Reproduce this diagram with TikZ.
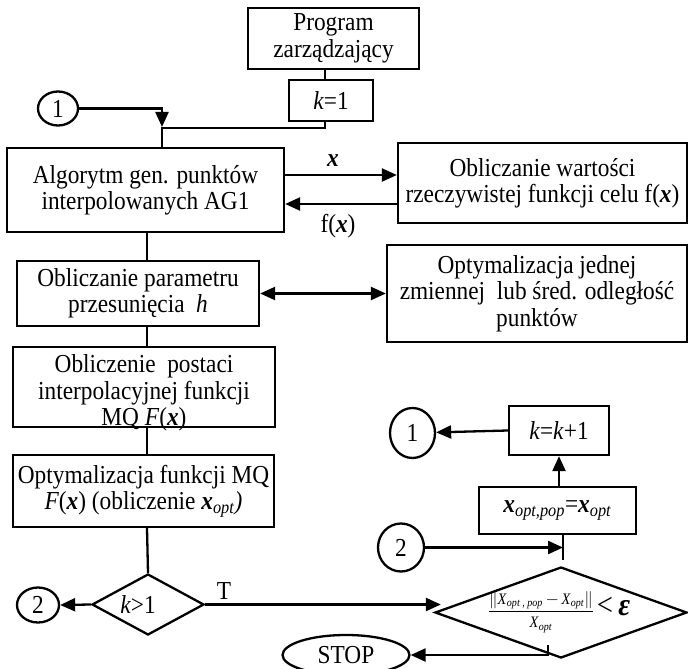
\documentclass[tikz,border=0pt]{standalone}
\usepackage{fontspec}
\usepackage{amsmath}
\setmainfont[FakeStretch=0.9]{Liberation Serif}
\usetikzlibrary{arrows.meta,shapes.geometric}
\newcommand{\bx}{\textbf{\textit{x}}}
\begin{document}
\begin{tikzpicture}[x=1bp,y=-1bp, line width=2.3bp,
  every node/.style={font=\fontsize{26}{26.5}\selectfont},
  box/.style={draw, rectangle, inner sep=0pt, align=center},
  circ/.style={draw, ellipse, inner sep=0pt},
  dia/.style={draw, diamond, inner sep=0pt, align=center},
  arr/.style={-{Triangle[length=15bp,width=13bp]}},
  darr/.style={{Triangle[length=15bp,width=13bp]}-{Triangle[length=15bp,width=13bp]}}]
\useasboundingbox (0,0) rectangle (688,669);

% nodes
\node[box, minimum width=171bp, minimum height=61bp] (prog) at (333.5,38.5) {Program\\zarządzający};
\node[box, minimum width=84bp, minimum height=41bp] (k1) at (331,100.5) {\textit{k}=1};
\node[circ, minimum width=40bp, minimum height=34bp] (c1a) at (58,108.5) {1};
\node[box, minimum width=277bp, minimum height=84bp] (alg) at (145.5,190) {Algorytm gen. punktów\\interpolowanych AG1};
\node[box, minimum width=289bp, minimum height=80bp] (obw) at (542.5,183) {Obliczanie wartości\\rzeczywistej funkcji celu f(\bx)};
\node[box, minimum width=242bp, minimum height=65bp] (par) at (138,293.5) {Obliczanie parametru\\przesunięcia\ \ \textit{h}};
\node[box, minimum width=300bp, minimum height=97bp] (opt1) at (537,293.5) {Optymalizacja jednej\\zmiennej\ \ lub śred. odległość\\punktów};
\node[box, minimum width=262bp, minimum height=80bp] (post) at (144,387) {};
\node[align=center, inner sep=0pt] (postt) at (144,393) {Obliczenie\ \ postaci\\interpolacyjnej funkcji\\MQ \textit{F}(\bx)};
\node[box, minimum width=261bp, minimum height=72bp] (mq) at (143.5,491) {Optymalizacja funkcji MQ\\\textit{F}(\bx) (obliczenie \bx\textsubscript{\textit{opt}}\textit{)}};
\node[dia, minimum width=112bp, minimum height=61bp] (dk) at (148,604.5) {};
\node (dkt) at (138,605) {\textit{k}>1};
\node[circ, minimum width=42bp, minimum height=35bp] (c2a) at (38,605) {2};
\node (tl) at (224,591) {T};
\node[dia, minimum width=252bp, minimum height=91bp] (bigd) at (561,612.5) {};
\node[inner sep=0pt, font=\fontsize{16}{17}\selectfont] (bigt) at (559,612) {$\dfrac{\mbox{$\|$\textit{X}\textsubscript{\textit{opt , pop}}\,$-$\,\textit{X}\textsubscript{\textit{opt}}$\|$}}{\mbox{\textit{X}\textsubscript{\textit{opt}}}}$\,{\fontsize{32}{32}\selectfont <\,\textbf{\textit{ε}}}};
\node[circ, minimum width=127bp, minimum height=40bp] (stop) at (346,655) {STOP};
\node[box, minimum width=157bp, minimum height=47bp] (xo) at (557.5,510.5) {\bx\textsubscript{\textit{opt,pop}}=\bx\textsubscript{\textit{opt}}};
\node[box, minimum width=100bp, minimum height=49bp] (kk) at (559,430.5) {\textit{k}=\textit{k}+1};
\node[circ, minimum width=45bp, minimum height=50bp] (c1b) at (412.5,433) {1};
\node[circ, minimum width=46bp, minimum height=48bp] (c2b) at (401,547.5) {2};

% top connectors
\coordinate (L) at (325,128);
\coordinate (J) at (162,128);
\draw (prog.south -| L) -- (k1.north -| L);
\draw (k1.south -| L) -- (L) -- (J) -- (alg.north -| J);
\draw[arr] (c1a.east) -- (c1a.east -| J) -- ([yshift=1bp]J);

% algorithm <-> objective
\coordinate (ya) at (0,175);
\coordinate (yb) at (0,204);
\draw[arr] (alg.east |- ya) -- (obw.west |- ya);
\draw[arr] (obw.west |- yb) -- (alg.east |- yb);
\node (lx) at (333,161) {\bx};
\node (lf) at (338,226) {f(\bx)};

% vertical chain
\coordinate (X) at (147,0);
\draw (alg.south -| X) -- (par.north -| X);
\draw (par.south -| X) -- (post.north -| X);
\draw (post.south -| X) -- (mq.north -| X);
\draw (mq.south -| X) -- (dk.north);
\draw[darr] (par.east) -- (opt1.west);

% decision k>1
\draw[arr] (dk.west) -- (c2a.east);
\draw[arr] (dk.east) -- ([xshift=7bp]bigd.west |- dk.east);

% right column
\coordinate (tk) at (563,560);
\draw (xo.south -| tk) -- (tk);
\draw[arr] (c2b.east) -- (c2b.east -| tk);
\draw[arr] (xo.north -| kk.south) -- (kk.south);
\draw[arr] (kk.west) -- (c1b);

% stop
\coordinate (sk) at (548,645);
\draw[arr] (sk) -- (sk |- stop.east) -- (stop.east);
\end{tikzpicture}
\end{document}
